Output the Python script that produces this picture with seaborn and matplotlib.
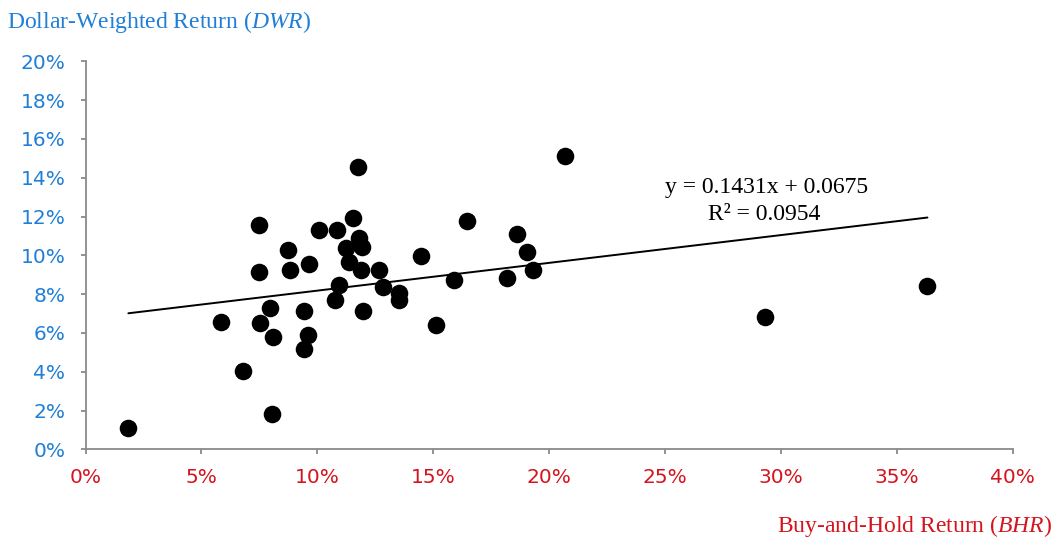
import matplotlib
matplotlib.use("Agg")
import matplotlib.pyplot as plt
import seaborn as sns
import pandas as pd
import numpy as np
from matplotlib.ticker import PercentFormatter, MultipleLocator

# Buy-and-hold vs dollar-weighted returns (as fractions)
bhr = [0.0185, 0.0803, 0.0678, 0.0585, 0.0749, 0.0749, 0.0754, 0.0797, 0.0810,
       0.0874, 0.0881, 0.0966, 0.0941, 0.0961, 0.0941, 0.1009, 0.1086, 0.1174,
       0.1155, 0.1181, 0.1191, 0.1122, 0.1138, 0.1189, 0.1266, 0.1095, 0.1078,
       0.1196, 0.1282, 0.1352, 0.1352, 0.1446, 0.1588, 0.1512, 0.1647, 0.1818,
       0.1862, 0.1903, 0.1929, 0.2070, 0.2930, 0.3633]
dwr = [0.0112, 0.0182, 0.0405, 0.0658, 0.1158, 0.0914, 0.0650, 0.0730, 0.0578,
       0.1027, 0.0924, 0.0955, 0.0713, 0.0589, 0.0517, 0.1130, 0.1130, 0.1457,
       0.1190, 0.1087, 0.1044, 0.1036, 0.0967, 0.0924, 0.0924, 0.0847, 0.0770,
       0.0713, 0.0835, 0.0804, 0.0770, 0.0996, 0.0873, 0.0641, 0.1178, 0.0885,
       0.1108, 0.1019, 0.0924, 0.1513, 0.0684, 0.0843]

# Linear trend reported on the chart
slope = 0.1431
intercept = 0.0675
r_squared = 0.0954

BLUE = "#1f7fd6"
RED = "#d4141e"
GRAY = "#8a8a8a"

sns.set_style("ticks")
plt.rcParams["font.family"] = ["DejaVu Sans"]
plt.rcParams["mathtext.fontset"] = "custom"
plt.rcParams["mathtext.rm"] = "Liberation Serif"
plt.rcParams["mathtext.it"] = "Liberation Serif:italic"

df = pd.DataFrame({"BHR": bhr, "DWR": dwr})

fig = plt.figure(figsize=(10.59, 5.42), dpi=100)
ax = fig.add_axes([85.5 / 1059, 1 - 449.4 / 542, (1012.5 - 85.5) / 1059, (449.4 - 61.3) / 542])

sns.scatterplot(data=df, x="BHR", y="DWR", ax=ax, s=160, color="black",
                edgecolor="black", linewidth=0, zorder=3, legend=False)

# Trend line across the data range
xs = np.array([min(bhr), max(bhr)])
ax.plot(xs, slope * xs + intercept, color="black", linewidth=1.4, zorder=2)

ax.set_xlim(0, 0.40)
ax.set_ylim(0, 0.20)
ax.xaxis.set_major_locator(MultipleLocator(0.05))
ax.yaxis.set_major_locator(MultipleLocator(0.02))
ax.xaxis.set_major_formatter(PercentFormatter(1.0, decimals=0))
ax.yaxis.set_major_formatter(PercentFormatter(1.0, decimals=0))
ax.set_xlabel("")
ax.set_ylabel("")

for side in ("top", "right"):
    ax.spines[side].set_visible(False)
for side in ("left", "bottom"):
    ax.spines[side].set_color(GRAY)
    ax.spines[side].set_linewidth(1.3)

ax.tick_params(axis="both", direction="out", length=3.6, width=1.3, color=GRAY)
ax.tick_params(axis="y", labelcolor=BLUE, labelsize=14.5, pad=11)
ax.tick_params(axis="x", labelcolor=RED, labelsize=14.5, pad=10)

# Regression annotation
ax.text(0.2938, 0.1319, "y = 0.1431x + 0.0675", ha="center", va="baseline",
        fontsize=17, family="Liberation Serif", color="black")
ax.text(0.2930, 0.1182, f"R² = {r_squared:.4f}", ha="center", va="baseline",
        fontsize=17, family="Liberation Serif", color="black")

# Axis titles
fig.text(7 / 1059, 1 - 28 / 542, r"Dollar-Weighted Return ($\mathit{DWR}$)",
         ha="left", va="baseline", fontsize=17, family="Liberation Serif", color=BLUE)
fig.text(1052 / 1059, 1 - 532 / 542, r"Buy-and-Hold Return ($\mathit{BHR}$)",
         ha="right", va="baseline", fontsize=17, family="Liberation Serif", color=RED)

fig.savefig("out.png", dpi=100)
